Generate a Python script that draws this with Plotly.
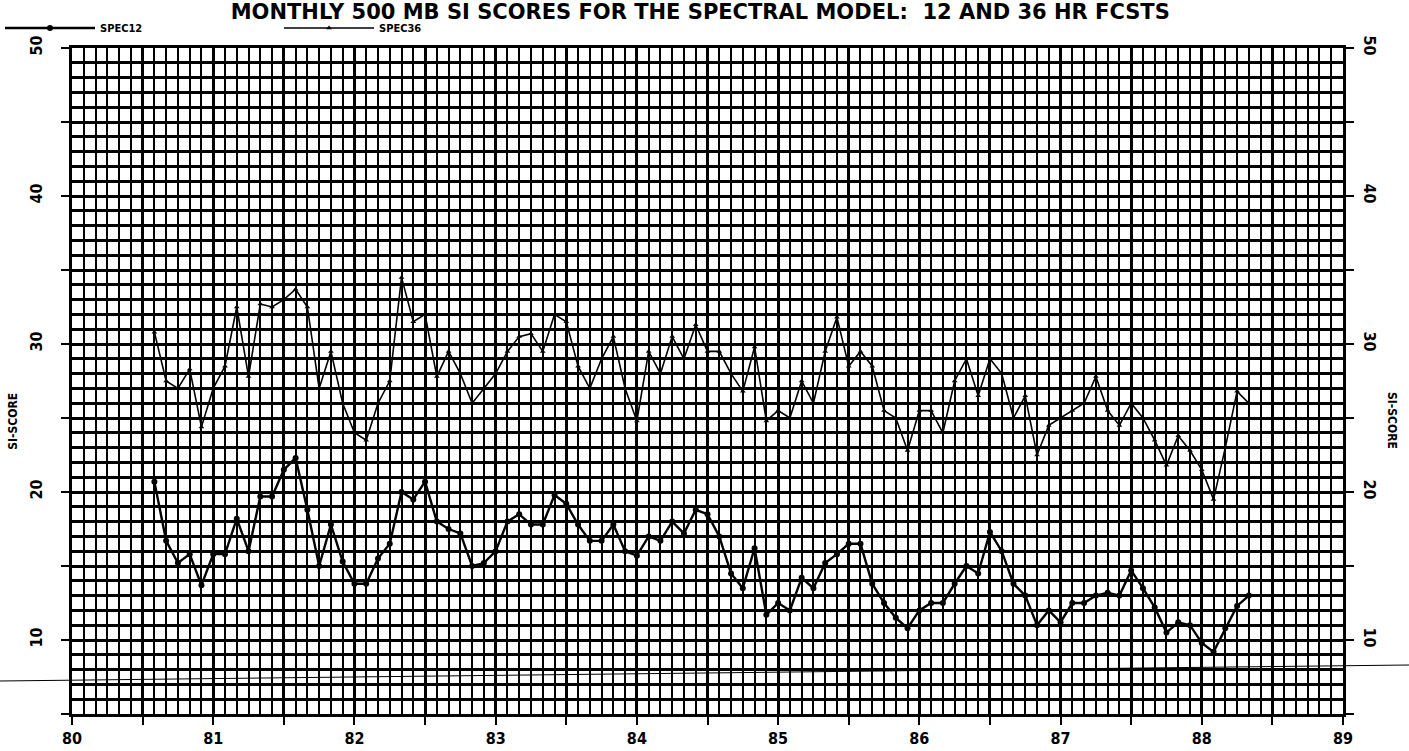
import plotly.graph_objects as go

# ---- data (monthly, Jul 1980 .. Apr 1988) ----
start_year = 80
start_month = 7
spec12 = [20.7, 16.7, 15.2, 15.8, 13.7, 15.8, 15.8, 18.2, 16.0, 19.7,
          19.7, 21.5, 22.3, 18.8, 15.0, 17.8, 15.3, 13.8, 13.8, 15.5,
          16.5, 20.0, 19.5, 20.7, 18.0, 17.5, 17.2, 15.0, 15.2, 16.0,
          18.0, 18.5, 17.8, 17.8, 19.8, 19.2, 17.8, 16.7, 16.7, 17.8,
          16.0, 15.7, 17.0, 16.7, 18.0, 17.2, 18.8, 18.5, 17.0, 14.5,
          13.5, 16.2, 11.7, 12.5, 12.0, 14.2, 13.5, 15.2, 15.8, 16.5,
          16.5, 13.8, 12.5, 11.5, 10.8, 12.0, 12.5, 12.5, 13.8, 15.0,
          14.5, 17.3, 16.0, 13.8, 13.0, 11.0, 12.0, 11.2, 12.5, 12.5,
          13.0, 13.2, 13.0, 14.7, 13.5, 12.2, 10.5, 11.2, 11.0, 9.8,
          9.2, 10.8, 12.3, 13.0]
spec36 = [30.8, 27.5, 27.0, 28.3, 24.4, 27.0, 28.5, 32.5, 27.8, 32.7,
          32.5, 33.0, 33.7, 32.5, 27.0, 29.5, 26.0, 24.0, 23.5, 26.0,
          27.5, 34.5, 31.5, 32.0, 27.8, 29.5, 28.0, 26.0, 27.0, 28.0,
          29.5, 30.5, 30.7, 29.5, 32.0, 31.5, 28.5, 27.0, 29.0, 30.5,
          27.0, 24.8, 29.5, 28.0, 30.5, 29.0, 31.3, 29.5, 29.5, 28.0,
          26.8, 29.8, 24.8, 25.5, 25.0, 27.5, 26.0, 29.5, 31.8, 28.5,
          29.5, 28.5, 25.5, 25.0, 22.8, 25.5, 25.5, 24.0, 27.5, 29.0,
          26.5, 29.0, 28.0, 25.0, 26.5, 22.5, 24.5, 25.0, 25.5, 26.0,
          27.8, 25.5, 24.5, 26.0, 25.0, 23.5, 21.8, 23.8, 22.8, 21.5,
          19.5, 23.0, 26.8, 26.0]

x_labels = ["80", "81", "82", "83", "84", "85", "86", "87", "88", "89"]

months = [start_year + (start_month - 1 + i + 1) / 12.0 for i in range(len(spec12))]

FONT = "DejaVu Sans Condensed, DejaVu Sans, sans-serif"
TFONT = "DejaVu Sans, sans-serif"

x_tickvals = [80 + 0.5 * k for k in range(19)]
x_ticktext = [x_labels[k // 2] if k % 2 == 0 else "" for k in range(19)]
y_tickvals = [5 * k for k in range(1, 11)]
y_ticktext = [str(v) if v % 10 == 0 else "" for v in y_tickvals]

fig = go.Figure()
fig.add_trace(go.Scatter(
    x=months, y=spec12, name="SPEC12", mode="lines+markers",
    line=dict(color="black", width=2.4),
    marker=dict(symbol="circle", size=6, color="black"),
))
fig.add_trace(go.Scatter(
    x=months, y=spec36, name="SPEC36", mode="lines+markers", yaxis="y2",
    line=dict(color="black", width=1.6),
    marker=dict(symbol="triangle-up", size=5, color="black"),
))

axis_common = dict(linecolor="black", linewidth=2.5, showline=True, automargin=False,
                   tickfont=dict(family=FONT, size=16, color="black", weight="bold"))

fig.update_layout(
    width=1409, height=751,
    paper_bgcolor="white", plot_bgcolor="white",
    margin=dict(l=72, r=66, t=48, b=37, autoexpand=False),
    title=dict(text="MONTHLY 500 MB SI SCORES FOR THE SPECTRAL MODEL:  12 AND 36 HR FCSTS",
               x=0.497, xref="container", xanchor="center",
               y=1 - 12 / 751, yref="container", yanchor="middle",
               font=dict(family=TFONT, size=21, color="black", weight="bold")),
    showlegend=True,
    legend=dict(orientation="h", xref="container", yref="container",
                x=0.0, xanchor="left", y=1 - 28 / 751, yanchor="middle",
                itemwidth=90, entrywidth=174, entrywidthmode="pixels",
                bgcolor="rgba(0,0,0,0)",
                font=dict(family=FONT, size=11, color="black", weight="bold")),
    xaxis=dict(range=[80, 89], tickmode="array", tickvals=x_tickvals, ticktext=x_ticktext,
               ticks="outside", ticklen=8, tickwidth=2, tickcolor="black",
               showgrid=True, gridcolor="black", gridwidth=3, zeroline=False, mirror=True,
               minor=dict(tickmode="linear", tick0=80, dtick=1 / 12, showgrid=True,
                          gridcolor="black", gridwidth=2, ticks=""),
               **axis_common),
    yaxis=dict(range=[5, 50], tickmode="array", tickvals=y_tickvals, ticktext=y_ticktext,
               ticks="outside", ticklen=8, tickwidth=2, tickcolor="black", tickangle=-90,
               ticklabelstandoff=13,
               showgrid=True, gridcolor="black", gridwidth=3, zeroline=False,
               minor=dict(tickmode="linear", tick0=5, dtick=1, showgrid=True,
                          gridcolor="black", gridwidth=2.6, ticks=""),
               **axis_common),
    yaxis2=dict(range=[5, 50], overlaying="y", side="right", tickmode="array",
                tickvals=y_tickvals, ticktext=y_ticktext,
                ticks="outside", ticklen=8, tickwidth=2, tickcolor="black", tickangle=90,
                ticklabelstandoff=4,
                showgrid=False, zeroline=False, **axis_common),
)

# axis titles
fig.add_annotation(text="SI-SCORE", xref="paper", yref="paper", x=-0.0466, y=0.44,
                   textangle=-90, showarrow=False, xanchor="center", yanchor="middle",
                   font=dict(family=FONT, size=12, color="black", weight="bold"))
fig.add_annotation(text="SI-SCORE", xref="paper", yref="paper", x=1.0385, y=0.44,
                   textangle=90, showarrow=False, xanchor="center", yanchor="middle",
                   font=dict(family=FONT, size=12, color="black", weight="bold"))

# scan artifact line across the page
fig.add_shape(type="line", xref="paper", yref="paper",
              x0=-72 / 1271, x1=(1409 - 72) / 1271,
              y0=(714 - 681) / 666, y1=(714 - 665) / 666,
              line=dict(color="black", width=1))

fig.write_html("out.html", config={"displayModeBar": False},
               post_script="document.body.style.margin='0';")
